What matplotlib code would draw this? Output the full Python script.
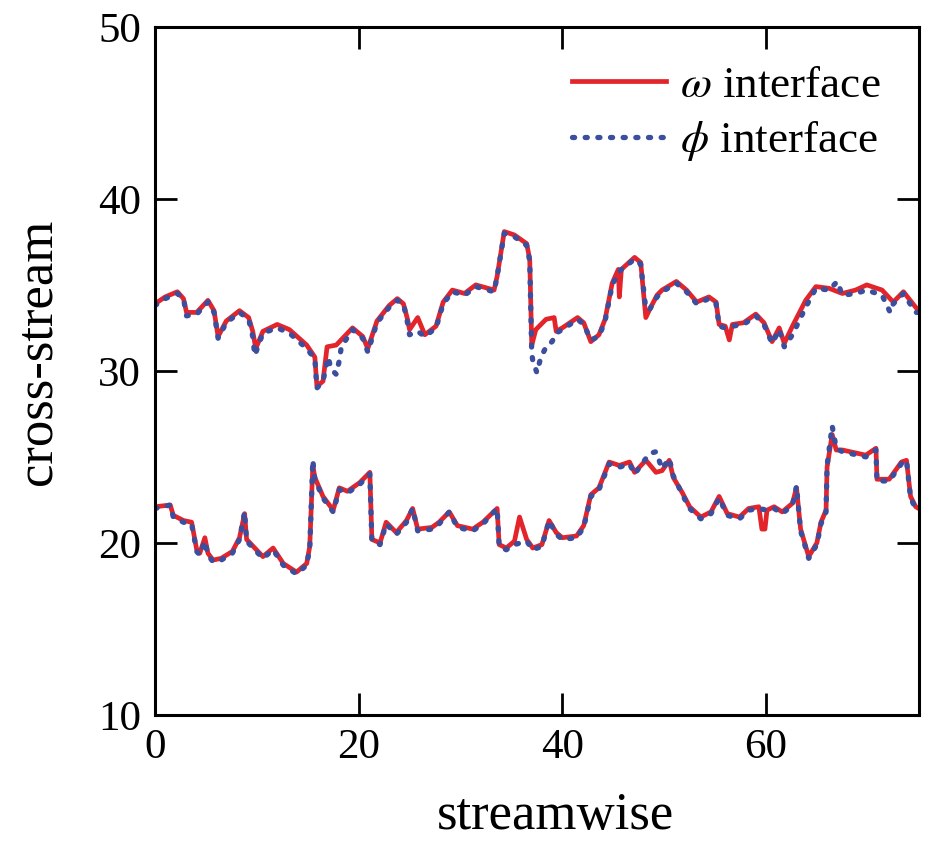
"""
interface positions: vorticity (omega) vs scalar (phi) threshold
- upper and lower interfaces of the layer
"""

import matplotlib
matplotlib.use("Agg")
import matplotlib.pyplot as plt

plt.rcParams["font.family"] = ["Liberation Serif", "DejaVu Serif"]
plt.rcParams["mathtext.fontset"] = "stix"

# omega interface, upper edge
w_up_x = [0, 1.0, 2.2, 2.8, 3.1, 4.1, 5.2, 5.8, 6.2, 7.0, 8.3, 9.2, 9.6, 9.9, 10.6, 12.0,
          13.2, 14.9, 15.7, 15.9, 16.5, 16.9, 17.8, 19.4, 20.4, 20.9, 21.8, 23.0, 23.8, 24.4,
          24.8, 25.0, 25.8, 26.5, 27.6, 28.3, 29.2, 30.4, 31.5, 33.3, 33.6, 34.3, 35.3, 36.5,
          36.8, 37.0, 37.4, 38.4, 39.2, 39.4, 40.0, 41.5, 42.1, 42.8, 43.6, 44.2, 44.9, 45.5,
          45.6, 45.8, 47.1, 47.7, 48.2, 48.6, 49.3, 49.8, 51.2, 52.2, 53.2, 54.4, 55.1, 55.4,
          56.0, 56.4, 56.7, 57.8, 59.0, 59.8, 60.6, 61.3, 61.8, 62.6, 63.9, 64.9, 66.2, 67.5,
          68.8, 69.9, 71.4, 72.5, 73.5, 74.7, 75.0]
w_up_y = [33.9, 34.3, 34.6, 34.2, 33.4, 33.4, 34.1, 33.5, 32.0, 32.9, 33.5, 33.1, 32.3, 31.3, 32.3, 32.7,
          32.4, 31.5, 30.8, 29.1, 29.4, 31.4, 31.5, 32.5, 32.0, 31.3, 32.9, 33.8, 34.2, 33.9,
          33.0, 32.4, 33.1, 32.1, 32.6, 34.0, 34.7, 34.5, 35.0, 34.7, 35.5, 38.1, 37.9, 37.4,
          36.5, 31.5, 32.4, 33.0, 33.1, 32.3, 32.5, 33.1, 32.8, 31.7, 32.1, 33.0, 35.1, 35.9,
          34.3, 35.9, 36.6, 36.3, 33.1, 33.6, 34.4, 34.7, 35.2, 34.7, 34.0, 34.3, 34.0, 32.7,
          32.6, 31.8, 32.7, 32.8, 33.3, 32.8, 31.7, 32.5, 31.6, 32.6, 34.1, 34.9, 34.8, 34.5,
          34.7, 35.0, 34.7, 34.0, 34.6, 33.7, 33.5]

# phi interface, upper edge
p_up_x = [0, 1.0, 2.2, 2.8, 3.1, 4.1, 5.2, 5.8, 6.2, 7.0, 8.3, 9.2, 9.6, 9.8, 10.6, 12.0,
          13.2, 14.9, 15.7, 15.9, 16.5, 17.0, 17.3, 17.8, 18.1, 18.3, 19.4, 20.4, 20.9, 21.8,
          23.0, 23.8, 24.4, 24.8, 25.0, 25.8, 26.5, 27.6, 28.3, 29.2, 30.4, 31.5, 33.3, 33.6,
          34.3, 35.3, 36.5, 36.8, 37.0, 37.1, 37.5, 37.9, 38.5, 39.0, 39.4, 40.0, 41.5, 42.1,
          42.8, 43.6, 44.2, 44.9, 45.6, 47.1, 47.7, 48.2, 48.6, 49.3, 49.8, 51.2, 52.2, 53.2,
          54.4, 55.1, 55.4, 56.0, 56.7, 57.8, 59.0, 59.8, 60.6, 61.3, 61.8, 62.6, 63.9, 64.9,
          66.2, 67.0, 67.5, 68.8, 69.9, 71.4, 72.2, 72.5, 73.5, 74.7, 75.0]
p_up_y = [33.8, 34.2, 34.5, 34.2, 33.2, 33.3, 34.0, 33.4, 31.9, 32.8, 33.4, 33.0, 32.0, 30.9, 32.2, 32.5,
          32.2, 31.3, 30.7, 29.0, 29.4, 30.8, 30.1, 29.8, 30.6, 31.4, 32.4, 31.9, 31.1, 32.8,
          33.7, 34.1, 33.9, 32.8, 32.1, 32.3, 32.0, 32.5, 33.9, 34.6, 34.4, 34.9, 34.6, 35.5,
          38.0, 37.8, 37.3, 36.4, 31.0, 30.6, 29.9, 30.8, 31.5, 31.7, 32.2, 32.4, 33.0, 32.7,
          31.8, 32.0, 32.9, 35.0, 35.8, 36.5, 36.2, 33.6, 33.6, 34.3, 34.6, 35.1, 34.6, 33.9,
          34.2, 33.9, 32.6, 32.5, 32.6, 32.7, 33.2, 32.7, 31.6, 32.4, 31.4, 32.1, 33.7, 34.8,
          34.7, 35.2, 34.4, 34.5, 34.7, 34.4, 33.4, 33.9, 34.5, 33.4, 33.4]

# omega interface, lower edge
w_lo_x = [0, 1.5, 1.8, 2.8, 3.6, 4.1, 4.4, 4.9, 5.2, 5.7, 6.5, 7.6, 8.3, 8.8, 9.0, 10.6,
          11.6, 12.6, 13.9, 14.9, 15.2, 15.5, 15.7, 16.5, 17.5, 18.1, 18.9, 20.1, 21.1, 21.3,
          22.1, 22.7, 23.7, 24.7, 25.3, 25.8, 27.2, 27.9, 28.9, 29.7, 31.2, 32.2, 33.6, 33.8,
          34.5, 35.3, 35.8, 36.5, 37.1, 38.0, 38.7, 39.4, 40.0, 41.4, 42.1, 42.8, 43.6, 44.6,
          45.6, 46.6, 47.1, 48.2, 48.5, 49.2, 49.8, 50.5, 50.9, 51.8, 52.5, 53.6, 54.6, 55.4,
          56.2, 57.4, 58.3, 59.3, 59.6, 59.9, 60.1, 60.8, 61.6, 62.6, 63.0, 63.4, 64.2, 65.0,
          65.4, 65.9, 66.0, 66.5, 66.9, 67.5, 69.8, 70.8, 70.9, 72.1, 73.3, 73.8, 74.2, 74.7,
          75.0]
w_lo_y = [22.1, 22.2, 21.6, 21.3, 21.2, 19.6, 19.4, 20.3, 19.4, 19.0, 19.1, 19.5, 20.3, 21.7, 20.2, 19.2,
          19.7, 18.8, 18.3, 18.8, 19.8, 24.5, 23.8, 22.7, 21.9, 23.2, 23.0, 23.5, 24.1, 20.2,
          20.0, 21.2, 20.6, 21.3, 22.0, 20.8, 20.9, 21.2, 21.8, 21.0, 20.8, 21.2, 22.0, 19.9,
          19.7, 20.1, 21.5, 20.2, 19.7, 19.9, 21.3, 20.6, 20.3, 20.4, 21.0, 22.8, 23.2, 24.7,
          24.5, 24.7, 24.1, 24.8, 24.6, 24.1, 24.2, 24.8, 23.8, 22.9, 22.1, 21.5, 21.8, 22.7,
          21.7, 21.5, 22.0, 22.1, 20.8, 20.8, 21.9, 22.1, 21.8, 22.3, 23.2, 20.8, 19.2, 20.0,
          21.2, 21.9, 24.4, 26.3, 25.4, 25.4, 25.1, 25.5, 23.7, 23.7, 24.7, 24.8, 22.7, 22.1,
          22.0]

# phi interface, lower edge
p_lo_x = [0, 1.5, 1.8, 2.8, 3.6, 4.1, 4.4, 4.9, 5.2, 5.7, 6.5, 7.6, 8.3, 8.8, 9.0, 10.6,
          11.6, 12.6, 13.9, 14.9, 15.2, 15.5, 15.7, 16.5, 17.5, 18.1, 18.9, 20.1, 21.1, 21.3,
          22.1, 22.7, 23.7, 24.7, 25.3, 25.8, 27.2, 27.9, 28.9, 29.7, 31.2, 32.2, 33.6, 33.8,
          34.5, 35.3, 36.5, 37.1, 38.0, 38.7, 39.4, 40.0, 41.4, 42.1, 42.8, 43.6, 44.6, 45.6,
          46.6, 47.1, 48.2, 48.6, 49.2, 49.8, 50.5, 50.9, 51.8, 52.5, 53.6, 54.6, 55.4, 56.2,
          57.4, 58.3, 59.3, 60.1, 60.8, 61.6, 62.6, 63.0, 63.4, 64.2, 65.0, 65.4, 65.9, 66.0,
          66.5, 66.9, 67.5, 69.8, 70.8, 70.9, 72.1, 73.3, 73.8, 74.2, 74.7, 75.0]
p_lo_y = [22.0, 22.2, 21.5, 21.2, 21.1, 19.5, 19.3, 20.1, 19.3, 18.9, 19.0, 19.4, 20.2, 21.8, 20.1, 19.1,
          19.6, 18.7, 18.2, 18.7, 19.7, 24.8, 23.7, 22.6, 21.8, 23.1, 22.9, 23.4, 24.0, 20.1,
          19.9, 21.1, 20.5, 21.2, 22.0, 20.7, 20.8, 21.1, 21.8, 20.9, 20.7, 21.1, 22.0, 19.8,
          19.6, 19.9, 20.1, 19.6, 19.8, 21.3, 20.5, 20.2, 20.3, 20.9, 22.7, 23.1, 24.6, 24.4,
          24.6, 24.0, 24.9, 25.2, 25.3, 24.3, 24.9, 23.9, 22.8, 22.0, 21.4, 21.7, 22.6, 21.6,
          21.4, 21.9, 22.0, 21.9, 22.0, 21.7, 22.2, 23.3, 20.7, 19.1, 19.9, 21.1, 21.8, 24.5,
          26.8, 25.5, 25.3, 25.0, 25.4, 23.6, 23.6, 24.6, 24.8, 22.6, 22.0, 21.9]

red = "#e3242b"
blue = "#3b4f9e"
dots = (0, (0.4, 2.0))

fig = plt.figure(figsize=(9.28, 8.41), dpi=100)
ax = fig.add_axes([0.167, 0.150, 0.823, 0.818])

ax.plot(w_up_x, w_up_y, color=red, lw=3.4, solid_joinstyle="round", label=r"$\omega$ interface")
ax.plot(w_lo_x, w_lo_y, color=red, lw=3.4, solid_joinstyle="round")
ax.plot(p_up_x, p_up_y, color=blue, lw=3.8, ls=dots, dash_capstyle="round",
        label=r"$\phi$ interface")
ax.plot(p_lo_x, p_lo_y, color=blue, lw=3.8, ls=dots, dash_capstyle="round")

ax.set_xlim(0, 75)
ax.set_ylim(10, 50)
ax.set_xticks([0, 20, 40, 60])
ax.set_yticks([10, 20, 30, 40, 50])
ax.tick_params(direction="in", length=16, width=2, labelsize=31, top=True, right=True, pad=10)
for s in ax.spines.values():
    s.set_linewidth(2.2)

ax.set_xlabel("streamwise", fontsize=38, labelpad=18)
ax.set_ylabel("cross-stream", fontsize=38, labelpad=26)
ax.xaxis.label.set_x(0.525)
ax.yaxis.label.set_y(0.528)

ax.legend(loc="upper right", frameon=False, fontsize=32.5, handlelength=2.1,
          handletextpad=0.3, labelspacing=0.3, borderaxespad=0.45)

fig.savefig("out.png", dpi=100)
